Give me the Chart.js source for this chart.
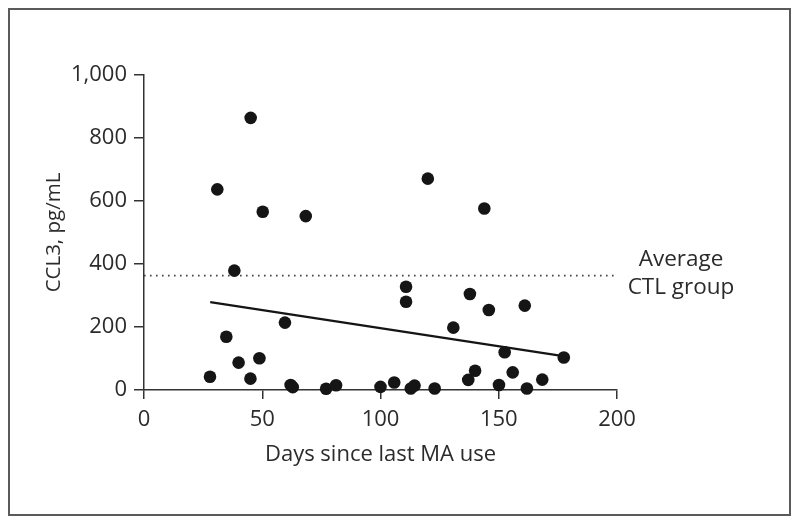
<!DOCTYPE html>
<html>
<head>
<meta charset="utf-8">
<script src="https://cdn.jsdelivr.net/npm/chart.js@4"></script>
<style>
  html, body { margin: 0; padding: 0; background: #fff; }
  canvas { display: block; }
</style>
</head>
<body>
<canvas id="c" width="800" height="524"></canvas>
<script>
// ---- data ----
const daysSinceUse = [27.9, 31.0, 34.8, 38.2, 40.0, 45.1, 45.0, 48.8, 50.2, 59.6, 62.0, 62.9, 68.4, 77.0, 81.2,
  100.0, 105.8, 110.8, 110.8, 112.8, 114.4, 120.0, 122.9, 130.8, 137.1, 137.8, 140.0, 143.9, 145.8, 150.1,
  152.5, 155.9, 161.0, 161.9, 168.4, 177.5];
const ccl3Values = [42, 637, 169, 379, 87, 864, 36, 101, 566, 214, 16, 9, 552, 4, 15,
  10, 24, 328, 280, 5, 14, 671, 5, 198, 32, 305, 61, 576, 254, 16,
  120, 56, 268, 5, 33, 103];
const fitX = [28, 178];
const fitY = [279, 107];
const ctlAverage = 363;
const ctlX = [0, 200];
const xTicks = [0, 50, 100, 150, 200];
const yTicks = [0, 200, 400, 600, 800, 1000];
const xTitle = 'Days since last MA use';
const yTitle = 'CCL3, pg/mL';
const annotationLines = ['Average', 'CTL group'];

const FONT = "'Open Sans', 'DejaVu Sans', sans-serif";
const TXT = '#2b2b2b';

const framePlugin = {
  id: 'frame',
  afterDraw(chart) {
    const ctx = chart.ctx;
    ctx.save();
    ctx.strokeStyle = '#5a5a5a';
    ctx.lineWidth = 2;
    ctx.strokeRect(9, 9, 781, 506);
    // annotation text to the right of the dotted line
    const y = chart.scales.y.getPixelForValue(ctlAverage);
    ctx.fillStyle = TXT;
    ctx.font = "22.5px " + FONT;
    ctx.textAlign = 'center';
    ctx.textBaseline = 'middle';
    ctx.fillText(annotationLines[0], 681, y - 16);
    ctx.fillText(annotationLines[1], 681, y + 12);
    ctx.restore();
  }
};

new Chart(document.getElementById('c'), {
  type: 'scatter',
  data: {
    datasets: [
      {
        data: daysSinceUse.map((x, i) => ({ x, y: ccl3Values[i] })),
        backgroundColor: '#151515',
        borderColor: '#151515',
        pointRadius: 6.3,
        pointBorderWidth: 0,
        clip: false,
        order: 1
      },
      {
        type: 'line',
        data: fitX.map((x, i) => ({ x, y: fitY[i] })),
        borderColor: '#151515',
        borderWidth: 2.2,
        pointRadius: 0,
        fill: false,
        order: 2
      },
      {
        type: 'line',
        data: ctlX.map(x => ({ x, y: ctlAverage })),
        borderColor: '#444',
        borderWidth: 1.6,
        borderDash: [1.6, 4.4],
        pointRadius: 0,
        fill: false,
        order: 3
      }
    ]
  },
  options: {
    responsive: false,
    animation: false,
    devicePixelRatio: 1,
    layout: { padding: { top: 75, right: 183, bottom: 0, left: 0 } },
    plugins: { legend: { display: false }, tooltip: { enabled: false } },
    scales: {
      x: {
        type: 'linear',
        min: 0, max: 200,
        afterBuildTicks(scale) { scale.ticks = xTicks.map(v => ({ value: v })); },
        afterFit(scale) { scale.height = 134; },
        grid: { display: true, drawOnChartArea: false, drawTicks: true, tickLength: 9, color: '#333', lineWidth: 1.5 },
        border: { display: true, color: '#333', width: 1.5 },
        ticks: { color: TXT, font: { family: FONT, size: 22 }, padding: 8, maxRotation: 0 },
        title: { display: true, text: xTitle, color: TXT, font: { family: FONT, size: 22 }, padding: { top: 0, bottom: 56 } }
      },
      y: {
        type: 'linear',
        min: 0, max: 1000,
        afterBuildTicks(scale) { scale.ticks = yTicks.map(v => ({ value: v })); },
        afterFit(scale) { scale.width = 144; },
        grid: { display: true, drawOnChartArea: false, drawTicks: true, tickLength: 10, color: '#333', lineWidth: 1.5 },
        border: { display: true, color: '#333', width: 1.5 },
        ticks: { color: TXT, font: { family: FONT, size: 22 }, padding: 7,
          callback: v => v.toLocaleString('en-US') },
        title: { display: true, text: yTitle, color: TXT, font: { family: FONT, size: 20.5 }, padding: { top: 42, bottom: 0 } }
      }
    }
  },
  plugins: [framePlugin]
});
</script>
</body>
</html>
